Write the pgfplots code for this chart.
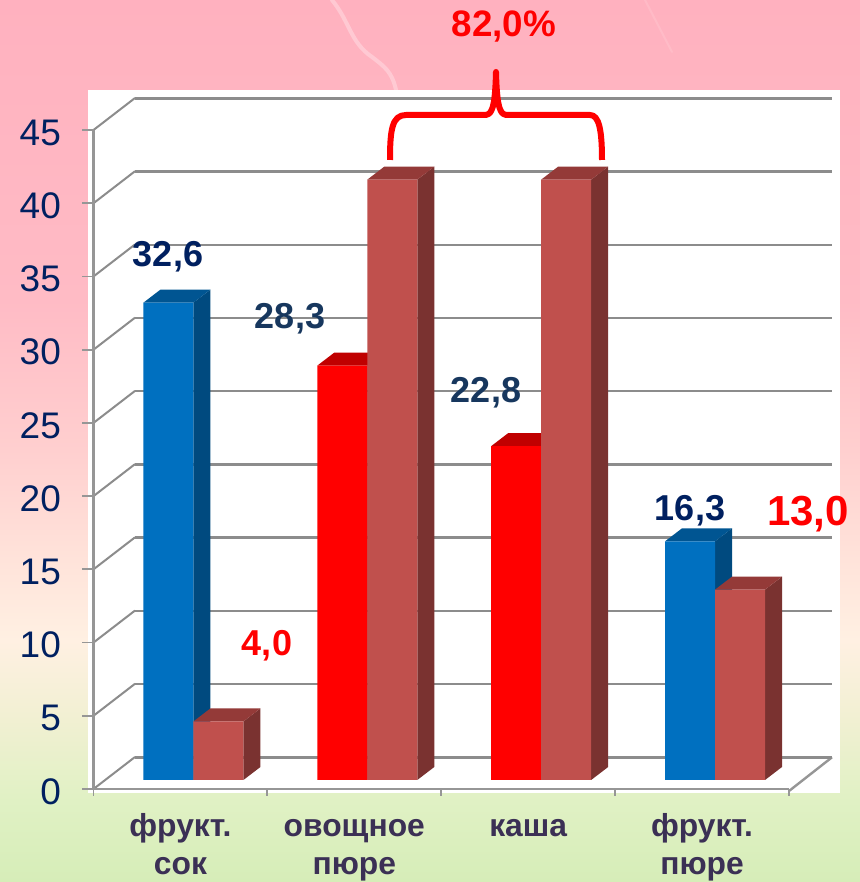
\documentclass[border=0pt]{standalone}
\usepackage{fontspec}
\setmainfont{Liberation Sans}
\usepackage{pgfplots}
\pgfplotsset{compat=1.18}
\definecolor{cNavy}{HTML}{002060}
\definecolor{cNavyB}{HTML}{17375E}
\definecolor{cCat}{HTML}{3B3055}
\definecolor{cGrid}{HTML}{8C8C8C}
\definecolor{cAxis}{HTML}{969696}
\definecolor{cBlue}{HTML}{0070C0}
\definecolor{cBlueT}{HTML}{005592}
\definecolor{cBlueS}{HTML}{004A7F}
\definecolor{cRed}{HTML}{FF0000}
\definecolor{cRedT}{HTML}{C00000}
\definecolor{cRedS}{HTML}{A00000}
\definecolor{cBrown}{HTML}{C0504D}
\definecolor{cBrownT}{HTML}{943A38}
\definecolor{cBrownS}{HTML}{7A3230}
\definecolor{bg0}{HTML}{D6EDB8}
\definecolor{bg1}{HTML}{E0F1C4}
\definecolor{bg2}{HTML}{F1F0D2}
\definecolor{bg3}{HTML}{FFF0E2}
\definecolor{bg4}{HTML}{FFE3DA}
\definecolor{bg5}{HTML}{FFCFCF}
\definecolor{bg6}{HTML}{FFBBC5}
\definecolor{bg7}{HTML}{FFB1BF}
\pgfdeclareverticalshading{slide}{100bp}{color(0bp)=(bg0); color(25bp)=(bg0); color(29.6bp)=(bg1); color(34.2bp)=(bg2); color(38.7bp)=(bg3); color(43.3bp)=(bg4); color(49.5bp)=(bg5); color(58bp)=(bg6); color(75bp)=(bg7); color(100bp)=(bg7)}
% top and side face of one bar: left edge, right edge, value, top colour, side colour
\newcommand{\faces}[5]{%
  \pgfmathsetmacro{\xa}{#1+0.0977}\pgfmathsetmacro{\xb}{#2+0.0977}\pgfmathsetmacro{\vb}{#3+0.888}%
  \addplot[fill=#5,draw=none] coordinates {(#2,0) (\xb,0.888) (\xb,\vb) (#2,#3)};
  \addplot[fill=#4,draw=none] coordinates {(#1,#3) (\xa,\vb) (\xb,\vb) (#2,#3)};
}
\newcommand{\lab}[5]{\node[anchor=base,inner sep=0pt,text=#3,font=\fontsize{#4}{#4}\selectfont\bfseries] at (#1,882-#2) {#5};}
\begin{document}
\begin{tikzpicture}[x=0.75pt,y=0.75pt]
\useasboundingbox (0,0) rectangle (860,882);
\shade[shading=slide] (0,0) rectangle (860,882);
\draw[white,opacity=0.3,line width=3pt,line cap=round] (332,882) .. controls (350,860) and (350,840) .. (372,825) .. controls (385,815) and (392,810) .. (396,792);
\draw[white,opacity=0.12,line width=1.5pt,line cap=round] (645,882) -- (672,830);
\fill[white] (88,882-90) rectangle (840,882-793);
% side wall and floor edge
\foreach \v in {0,5,...,45}
  \draw[cGrid,line width=1.5pt] (93.5,93+14.644*\v) -- ++(41.5,32);
\draw[cAxis,line width=1.8pt] (789,91) -- (832,124.7);
% back wall
\begin{axis}[at={(101.25pt,93.5pt)},anchor=south west,scale only axis,width=522.75pt,height=494.2pt,
  xmin=0,xmax=1,ymin=0,ymax=45,xtick=\empty,ytick={0,5,...,45},yticklabels={},
  ymajorgrids,grid style={cGrid,line width=1.8pt},axis line style={draw=none},tick style={draw=none}]
\end{axis}
% front axis with ticks and labels
\begin{axis}[at={(70.125pt,69.75pt)},anchor=south west,scale only axis,width=521.6pt,height=494.2pt,
  xmin=-0.5,xmax=3.5,ymin=0,ymax=45,
  axis x line*=bottom,axis y line*=left,axis line style={cAxis,line width=2pt,-},
  xtick={0,1,2,3},minor xtick={-0.5,0.5,1.5,2.5,3.5},
  xticklabels={{фрукт.\strut\\сок\strut},{овощное\strut\\пюре\strut},{каша\strut},{фрукт.\strut\\пюре\strut}},
  ytick={0,5,...,45},
  tick align=outside,major tick length=8.5pt,minor tick length=5pt,
  major x tick style={draw=none},minor x tick style={cAxis,line width=1.3pt},
  y tick style={cAxis,line width=1.3pt},
  /pgf/number format/assume math mode=true,
  yticklabel style={text=cNavy,font=\fontsize{27.75}{30}\selectfont,inner sep=0pt,xshift=-15.75pt,yshift=-1.8pt},
  xticklabel style={text=cCat,font=\fontsize{23.85}{28.5}\selectfont\bfseries,align=center,anchor=north,inner sep=0pt,yshift=-7pt}]
\end{axis}
% bars
\begin{axis}[at={(79.875pt,76.5pt)},anchor=south west,scale only axis,width=521.6pt,height=494.2pt,
  xmin=-0.5,xmax=3.5,ymin=0,ymax=45,hide axis,clip=false]
\faces{-0.2875}{0}{32.6}{cBlueT}{cBlueS}
\faces{2.7125}{3}{16.3}{cBlueT}{cBlueS}
\faces{0.7125}{1}{28.3}{cRedT}{cRedS}
\faces{1.7125}{2}{22.8}{cRedT}{cRedS}
\addplot[ybar,bar width=37.5pt,bar shift=-18.75pt,fill=cBlue,draw=none] coordinates {(0,32.6) (3,16.3)};
\addplot[ybar,bar width=37.5pt,bar shift=-18.75pt,fill=cRed,draw=none] coordinates {(1,28.3) (2,22.8)};
\faces{0}{0.2875}{4.0}{cBrownT}{cBrownS}
\faces{1}{1.2875}{41.0}{cBrownT}{cBrownS}
\faces{2}{2.2875}{41.0}{cBrownT}{cBrownS}
\faces{3}{3.2875}{13.0}{cBrownT}{cBrownS}
\addplot[ybar,bar width=37.5pt,bar shift=18.75pt,fill=cBrown,draw=none] coordinates {(0,4.0) (1,41.0) (2,41.0) (3,13.0)};
\end{axis}
% value labels
\lab{168}{267}{cNavy}{27}{32,6}
\lab{290}{329}{cNavyB}{27}{28,3}
\lab{486}{403}{cNavyB}{27}{22,8}
\lab{690}{521}{cNavy}{27}{16,3}
\lab{267}{656}{cRed}{27}{4,0}
\lab{808}{526}{cRed}{31.5}{13,0}
\lab{504}{37}{cRed}{27.6}{82,0\%}
% brace over the two tall categories
\draw[cRed,line width=4.5pt,line cap=butt,line join=round]
  (390,882-160) .. controls (390,882-130) and (392,882-115) .. (406,882-115)
  -- (484,882-115) .. controls (491,882-115) and (495,882-112) .. (496,882-72)
  .. controls (497,882-112) and (501,882-115) .. (508,882-115)
  -- (590,882-115) .. controls (599,882-115) and (602,882-130) .. (602,882-160);
\end{tikzpicture}
\end{document}
